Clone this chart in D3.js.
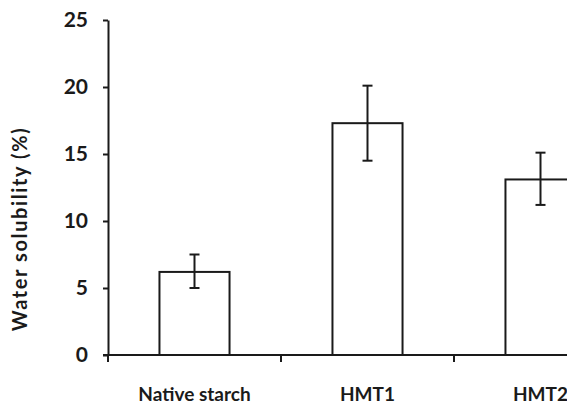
<!DOCTYPE html>
<html>
<head>
<meta charset="utf-8">
<script src="https://cdn.jsdelivr.net/npm/d3@7"></script>
<style>
  body { margin: 0; background: #fff; }
  text { font-family: Lato, "Open Sans", sans-serif; font-weight: bold; fill: #1a1a1a; }
</style>
</head>
<body>
<div id="chart"></div>
<script>
// data
const categories = ['Native starch', 'HMT1', 'HMT2']
const solubility = [6.2, 17.3, 13.1]
const errUp = [7.5, 20.1, 15.1]
const errDown = [5.0, 14.5, 11.2]
const yTicks = [0, 5, 10, 15, 20, 25]

const width = 567
const height = 407
const ink = '#1a1a1a'

const svg = d3.select('#chart')
    .append('svg')
    .attr('width', width)
    .attr('height', height)

// band covers full category slot; last slot runs off the right edge
const x = d3.scaleBand()
    .domain(categories)
    .range([108, 627])
    .paddingInner(0)
    .paddingOuter(0)

const y = d3.scaleLinear()
    .domain([0, 25])
    .range([355, 20])

const barW = x.bandwidth() * 0.405

// y axis
svg.append('g')
    .attr('transform', 'translate(108,0)')
    .call(d3.axisLeft(y).tickValues(yTicks).tickSize(5).tickPadding(15).tickSizeOuter(0))
    .call(g => g.select('.domain').attr('stroke', ink).attr('stroke-width', 2))
    .call(g => g.selectAll('.tick line').attr('stroke', ink).attr('stroke-width', 2))
    .call(g => g.selectAll('.tick text')
        .attr('font-size', 21)
        .attr('font-family', 'Lato, sans-serif')
        .attr('font-weight', 'bold')
        .attr('fill', ink))

// x axis line and boundary ticks
const bounds = categories.map(d => x(d)).concat([x(categories[categories.length - 1]) + x.bandwidth()])
const xa = svg.append('g')
xa.append('line')
    .attr('x1', 103).attr('x2', width + 10)
    .attr('y1', y(0)).attr('y2', y(0))
    .attr('stroke', ink).attr('stroke-width', 2)
xa.selectAll('line.tk')
    .data(bounds)
    .join('line')
    .attr('class', 'tk')
    .attr('x1', d => d).attr('x2', d => d)
    .attr('y1', y(0)).attr('y2', y(0) + 7)
    .attr('stroke', ink).attr('stroke-width', 2)

xa.selectAll('text')
    .data(categories)
    .join('text')
    .attr('x', d => x(d) + x.bandwidth() / 2)
    .attr('y', 401)
    .attr('text-anchor', 'middle')
    .attr('font-size', 19)
    .text(d => d)

// bars
svg.append('g')
    .selectAll('rect')
    .data(categories)
    .join('rect')
    .attr('x', d => x(d) + x.bandwidth() / 2 - barW / 2)
    .attr('y', (d, i) => y(solubility[i]))
    .attr('width', barW)
    .attr('height', (d, i) => y(0) - y(solubility[i]))
    .attr('fill', 'white')
    .attr('stroke', ink)
    .attr('stroke-width', 2)

// error bars
const eb = svg.append('g')
    .attr('stroke', ink)
    .attr('stroke-width', 2)
    .selectAll('g')
    .data(categories)
    .join('g')
    .attr('transform', d => `translate(${x(d) + x.bandwidth() / 2},0)`)

eb.append('line')
    .attr('y1', (d, i) => y(errUp[i]))
    .attr('y2', (d, i) => y(errDown[i]))
eb.append('line')
    .attr('x1', -5).attr('x2', 5)
    .attr('y1', (d, i) => y(errUp[i])).attr('y2', (d, i) => y(errUp[i]))
eb.append('line')
    .attr('x1', -5).attr('x2', 5)
    .attr('y1', (d, i) => y(errDown[i])).attr('y2', (d, i) => y(errDown[i]))

// y title
svg.append('text')
    .attr('transform', 'translate(27,229) rotate(-90)')
    .attr('text-anchor', 'middle')
    .attr('font-size', 20)
    .attr('letter-spacing', 1.6)
    .text('Water solubility (%)')
</script>
</body>
</html>
